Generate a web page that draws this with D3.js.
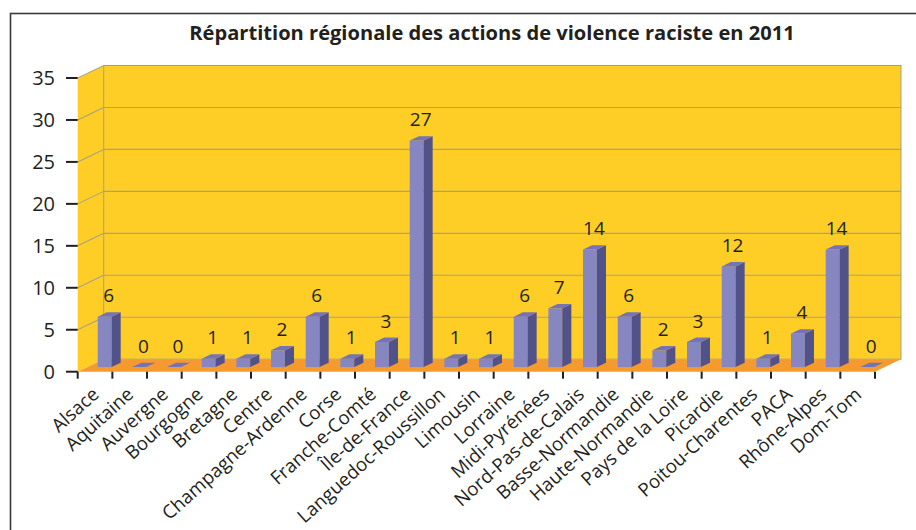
<!DOCTYPE html>
<html>
<head>
<meta charset="utf-8">
<script src="https://d3js.org/d3.v7.min.js"></script>
<style>
  body { margin: 0; background: #fff; }
  svg { display: block; font-family: "Open Sans", "Noto Sans", sans-serif; }
</style>
</head>
<body>
<div id="chart"></div>
<script>
// regions and number of racist violence actions, 2011
var regions = ['Alsace', 'Aquitaine', 'Auvergne', 'Bourgogne', 'Bretagne', 'Centre',
    'Champagne-Ardenne', 'Corse', 'Franche-Comté', 'Île-de-France', 'Languedoc-Roussillon',
    'Limousin', 'Lorraine', 'Midi-Pyrénées', 'Nord-Pas-de-Calais', 'Basse-Normandie',
    'Haute-Normandie', 'Pays de la Loire', 'Picardie', 'Poitou-Charentes', 'PACA',
    'Rhône-Alpes', 'Dom-Tom'];
var actions = [6, 0, 0, 1, 1, 2, 6, 1, 3, 27, 1, 1, 6, 7, 14, 6, 2, 3, 12, 1, 4, 14, 0];
var yTicks = [0, 5, 10, 15, 20, 25, 30, 35];

var width = 916, height = 530;
var depthX = 26, depthY = -12.5;   // 3d wall depth
var barFront = 0.37, barBack = 0.72; // bar position inside the depth

var svg = d3.select('#chart')
    .append('svg')
    .attr('width', width)
    .attr('height', height);

var x = d3.scaleBand()
    .domain(regions)
    .range([77.7, 875])
    .padding(0);

var y = d3.scaleLinear()
    .domain([0, 35])
    .range([371.7, 78]);

var plotLeft = x.range()[0], plotRight = x.range()[1];
var plotBottom = y(0), plotTop = y(35);

// outer frame
svg.append('rect')
    .attr('x', 10.5).attr('y', 13.5)
    .attr('width', 940).attr('height', 560)
    .attr('fill', 'none')
    .attr('stroke', '#3a3a3a')
    .attr('stroke-width', 1.6);

svg.append('text')
    .attr('x', 492)
    .attr('y', 40)
    .attr('text-anchor', 'middle')
    .style('font-size', '20.1px')
    .style('font-weight', 'bold')
    .style('fill', '#231f20')
    .text('Répartition régionale des actions de violence raciste en 2011');

function pts(arr) {
    return arr.map(function(p) { return p[0] + ',' + p[1]; }).join(' ');
}

// side wall
svg.append('polygon')
    .attr('points', pts([[plotLeft, plotBottom], [plotLeft, plotTop],
        [plotLeft + depthX, plotTop + depthY], [plotLeft + depthX, plotBottom + depthY]]))
    .attr('fill', '#fece27');

// back wall
svg.append('rect')
    .attr('x', plotLeft + depthX).attr('y', plotTop + depthY)
    .attr('width', plotRight - plotLeft).attr('height', plotBottom - plotTop)
    .attr('fill', '#fece27')
    .attr('stroke', '#a39e8c')
    .attr('stroke-width', 1);

svg.append('line')
    .attr('x1', plotLeft).attr('y1', plotTop)
    .attr('x2', plotLeft + depthX).attr('y2', plotTop + depthY)
    .attr('stroke', '#a39e8c');

// gridlines
var grid = svg.append('g').attr('stroke', '#a8a08a').attr('stroke-width', 1.1);
yTicks.filter(function(t) { return t > 0 && t < 35; }).forEach(function(t) {
    grid.append('line')
        .attr('x1', plotLeft).attr('y1', y(t))
        .attr('x2', plotLeft + depthX).attr('y2', y(t) + depthY);
    grid.append('line')
        .attr('x1', plotLeft + depthX).attr('y1', y(t) + depthY)
        .attr('x2', plotRight + depthX).attr('y2', y(t) + depthY);
});

// floor
svg.append('polygon')
    .attr('points', pts([[plotLeft, plotBottom], [plotRight, plotBottom],
        [plotRight + depthX, plotBottom + depthY], [plotLeft + depthX, plotBottom + depthY]]))
    .attr('fill', '#f59a2f');

// y axis ticks and labels
yTicks.forEach(function(t) {
    svg.append('line')
        .attr('x1', 66).attr('x2', plotLeft)
        .attr('y1', y(t)).attr('y2', y(t))
        .attr('stroke', '#231f20')
        .attr('stroke-width', 2);
    svg.append('text')
        .attr('x', 55)
        .attr('y', y(t))
        .attr('dy', '0.36em')
        .attr('text-anchor', 'end')
        .style('font-size', '20px')
        .style('fill', '#231f20')
        .text(t);
});

// x axis ticks at category boundaries
var bounds = regions.map(function(r) { return x(r); }).concat([plotRight]);
bounds.forEach(function(b) {
    svg.append('line')
        .attr('x1', b).attr('x2', b)
        .attr('y1', plotBottom).attr('y2', plotBottom + 7)
        .attr('stroke', '#231f20')
        .attr('stroke-width', 2);
});

// bars
var bw = x.bandwidth() * 0.4;
var fdx = depthX * barFront, fdy = depthY * barFront;
var bdx = depthX * barBack, bdy = depthY * barBack;

var bars = svg.append('g');
regions.forEach(function(r, i) {
    var v = actions[i];
    var x0 = x(r) + (x.bandwidth() - bw) / 2 + fdx;
    var x1 = x0 + bw;
    var yb = plotBottom + fdy;
    var yt = y(v) + fdy;
    var sx = bdx - fdx, sy = bdy - fdy;
    var g = bars.append('g');
    if (v > 0) {
        g.append('rect')
            .attr('x', x0).attr('y', yt)
            .attr('width', bw).attr('height', yb - yt)
            .attr('fill', '#8686c1');
        g.append('polygon')
            .attr('points', pts([[x1, yb], [x1, yt], [x1 + sx, yt + sy], [x1 + sx, yb + sy]]))
            .attr('fill', '#52528b');
    }
    g.append('polygon')
        .attr('points', pts([[x0, yt], [x1, yt], [x1 + sx, yt + sy], [x0 + sx, yt + sy]]))
        .attr('fill', '#7373b7');

    svg.append('text')
        .attr('x', x0 + bw / 2 + 4)
        .attr('y', yt + sy - 10)
        .attr('text-anchor', 'middle')
        .style('font-size', '19px')
        .style('fill', '#231f20')
        .text(v);
});

// category labels
regions.forEach(function(r) {
    var cx = x(r) + x.bandwidth() / 2;
    svg.append('text')
        .attr('transform', 'translate(' + (cx + 5) + ',' + 396 + ') rotate(-42)')
        .attr('text-anchor', 'end')
        .style('font-size', '18.8px')
        .style('fill', '#231f20')
        .text(r);
});
</script>
</body>
</html>
